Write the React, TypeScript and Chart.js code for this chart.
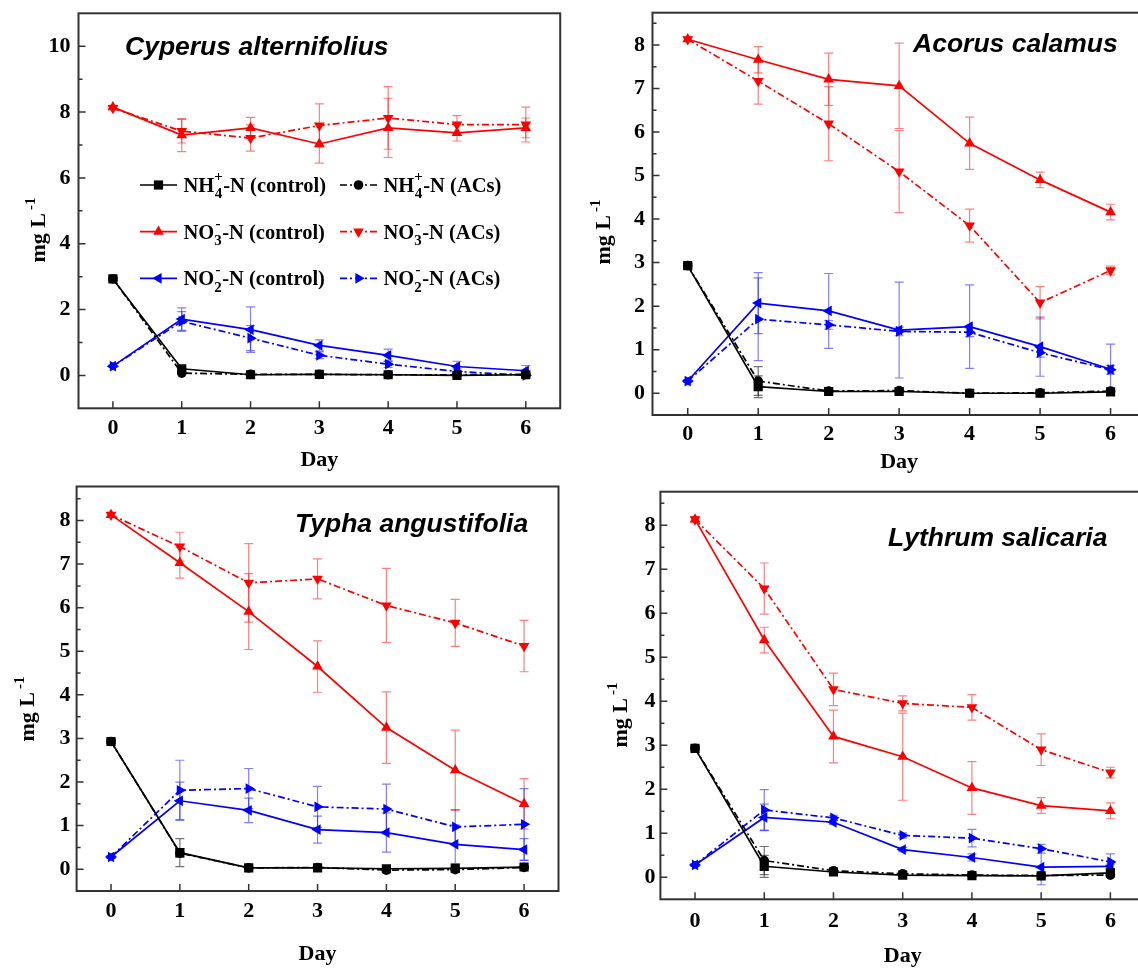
import React, { useEffect, useRef } from 'react';
import { Chart, registerables } from 'chart.js';

Chart.register(...registerables);

// ---------- data ----------
const DAYS = [0, 1, 2, 3, 4, 5, 6];
const X_TICKS = [0, 1, 2, 3, 4, 5, 6];
const SERIES_LABELS = [
  'NH4+-N (control)', 'NH4+-N (ACs)',
  'NO3--N (control)', 'NO3--N (ACs)',
  'NO2--N (control)', 'NO2--N (ACs)',
];

// Cyperus alternifolius
const cypNH4Control = [2.93, 0.20, 0.02, 0.03, 0.02, 0.00, 0.02];
const cypNH4ControlSD = [0.05, 0.05, 0.02, 0.02, 0.02, 0.02, 0.02];
const cypNH4ACs = [2.93, 0.07, 0.03, 0.03, 0.02, 0.02, 0.03];
const cypNH4ACsSD = [0.05, 0.04, 0.02, 0.02, 0.02, 0.02, 0.02];
const cypNO3Control = [8.15, 7.30, 7.52, 7.03, 7.52, 7.37, 7.52];
const cypNO3ControlSD = [0.05, 0.50, 0.32, 0.58, 0.90, 0.25, 0.30];
const cypNO3ACs = [8.12, 7.42, 7.21, 7.59, 7.82, 7.62, 7.62];
const cypNO3ACsSD = [0.05, 0.36, 0.40, 0.66, 0.95, 0.27, 0.53];
const cypNO2Control = [0.28, 1.71, 1.39, 0.91, 0.61, 0.27, 0.14];
const cypNO2ControlSD = [0.03, 0.34, 0.69, 0.17, 0.19, 0.16, 0.16];
const cypNO2ACs = [0.28, 1.64, 1.13, 0.61, 0.34, 0.12, 0.00];
const cypNO2ACsSD = [0.03, 0.30, 0.38, 0.10, 0.10, 0.08, 0.05];
const cypYTicks = [0, 1, 2, 3, 4, 5, 6, 7, 8, 9, 10];
const cypYLabels = [0, 2, 4, 6, 8, 10];

// Acorus calamus
const acoNH4Control = [2.93, 0.15, 0.04, 0.04, 0.00, 0.00, 0.03];
const acoNH4ControlSD = [0.05, 0.25, 0.02, 0.02, 0.02, 0.02, 0.02];
const acoNH4ACs = [2.93, 0.28, 0.05, 0.06, 0.00, 0.01, 0.05];
const acoNH4ACsSD = [0.05, 0.33, 0.02, 0.02, 0.02, 0.02, 0.02];
const acoNO3Control = [8.13, 7.66, 7.21, 7.06, 5.74, 4.90, 4.16];
const acoNO3ControlSD = [0.05, 0.30, 0.60, 0.98, 0.60, 0.18, 0.18];
const acoNO3ACs = [8.13, 7.17, 6.19, 5.09, 3.85, 2.08, 2.82];
const acoNO3ACsSD = [0.05, 0.53, 0.85, 0.94, 0.38, 0.37, 0.10];
const acoNO2Control = [0.28, 2.07, 1.89, 1.45, 1.53, 1.07, 0.55];
const acoNO2ControlSD = [0.03, 0.70, 0.86, 1.10, 0.96, 0.68, 0.58];
const acoNO2ACs = [0.28, 1.70, 1.57, 1.42, 1.40, 0.93, 0.54];
const acoNO2ACsSD = [0.03, 0.95, 0.10, 0.10, 0.10, 0.10, 0.10];
const acoYTicks = [0, 0.5, 1, 1.5, 2, 2.5, 3, 3.5, 4, 4.5, 5, 5.5, 6, 6.5, 7, 7.5, 8, 8.5];
const acoYLabels = [0, 1, 2, 3, 4, 5, 6, 7, 8];

// Typha angustifolia
const typNH4Control = [2.93, 0.38, 0.03, 0.03, 0.01, 0.02, 0.05];
const typNH4ControlSD = [0.05, 0.32, 0.02, 0.02, 0.02, 0.02, 0.02];
const typNH4ACs = [2.93, 0.37, 0.03, 0.04, -0.02, -0.01, 0.04];
const typNH4ACsSD = [0.05, 0.10, 0.02, 0.02, 0.02, 0.02, 0.02];
const typNO3Control = [8.13, 7.03, 5.91, 4.65, 3.25, 2.27, 1.50];
const typNO3ControlSD = [0.05, 0.35, 0.87, 0.59, 0.82, 0.92, 0.58];
const typNO3ACs = [8.13, 7.40, 6.57, 6.66, 6.05, 5.65, 5.12];
const typNO3ACsSD = [0.05, 0.33, 0.90, 0.46, 0.85, 0.54, 0.59];
const typNO2Control = [0.28, 1.57, 1.35, 0.91, 0.84, 0.57, 0.45];
const typNO2ControlSD = [0.03, 0.43, 0.28, 0.31, 0.45, 0.44, 0.25];
const typNO2ACs = [0.28, 1.81, 1.85, 1.43, 1.38, 0.97, 1.03];
const typNO2ACsSD = [0.03, 0.69, 0.46, 0.47, 0.57, 0.40, 0.82];
const typYTicks = [0, 0.5, 1, 1.5, 2, 2.5, 3, 3.5, 4, 4.5, 5, 5.5, 6, 6.5, 7, 7.5, 8, 8.5];
const typYLabels = [0, 1, 2, 3, 4, 5, 6, 7, 8];

// Lythrum salicaria
const lytNH4Control = [2.93, 0.25, 0.12, 0.05, 0.04, 0.03, 0.10];
const lytNH4ControlSD = [0.05, 0.25, 0.02, 0.02, 0.02, 0.02, 0.02];
const lytNH4ACs = [2.93, 0.38, 0.15, 0.08, 0.05, 0.04, 0.05];
const lytNH4ACsSD = [0.05, 0.32, 0.02, 0.02, 0.02, 0.02, 0.02];
const lytNO3Control = [8.13, 5.39, 3.20, 2.74, 2.03, 1.63, 1.51];
const lytNO3ControlSD = [0.05, 0.29, 0.60, 0.99, 0.60, 0.18, 0.18];
const lytNO3ACs = [8.13, 6.56, 4.27, 3.95, 3.86, 2.90, 2.38];
const lytNO3ACsSD = [0.05, 0.58, 0.37, 0.17, 0.29, 0.36, 0.12];
const lytNO2Control = [0.28, 1.36, 1.25, 0.63, 0.45, 0.23, 0.25];
const lytNO2ControlSD = [0.03, 0.30, 0.05, 0.05, 0.08, 0.40, 0.05];
const lytNO2ACs = [0.28, 1.53, 1.35, 0.95, 0.89, 0.65, 0.35];
const lytNO2ACsSD = [0.03, 0.46, 0.06, 0.06, 0.20, 0.10, 0.18];
const lytYTicks = [0, 0.5, 1, 1.5, 2, 2.5, 3, 3.5, 4, 4.5, 5, 5.5, 6, 6.5, 7, 7.5, 8, 8.5];
const lytYLabels = [0, 1, 2, 3, 4, 5, 6, 7, 8];

// ---------- styles ----------
const SERIF = "'Liberation Serif', 'Times New Roman', serif";
const SANS = "'Liberation Sans', Arial, sans-serif";
const DASHDOT = [7, 3, 2, 3];
const FRAME = '#333333';

const STYLES = [
  { color: '#000000', err: 'rgba(0,0,0,0.55)', dash: [] as number[], point: 'rect', rot: 0, radius: 6.5 },
  { color: '#000000', err: 'rgba(0,0,0,0.55)', dash: DASHDOT, point: 'circle', rot: 0, radius: 4.8 },
  { color: '#ff0000', err: 'rgba(255,0,0,0.5)', dash: [] as number[], point: 'triangle', rot: 0, radius: 6.2 },
  { color: '#ff0000', err: 'rgba(255,0,0,0.5)', dash: DASHDOT, point: 'triangle', rot: 180, radius: 6.2 },
  { color: '#0000ff', err: 'rgba(0,0,255,0.5)', dash: [] as number[], point: 'triangle', rot: -90, radius: 6.2 },
  { color: '#0000ff', err: 'rgba(0,0,255,0.5)', dash: DASHDOT, point: 'triangle', rot: 90, radius: 6.2 },
];

const LEGEND_TEXT = [
  { base: 'NH', sup: '+', sub: '4', rest: '-N (control)' },
  { base: 'NH', sup: '+', sub: '4', rest: '-N (ACs)' },
  { base: 'NO', sup: '-', sub: '3', rest: '-N (control)' },
  { base: 'NO', sup: '-', sub: '3', rest: '-N (ACs)' },
  { base: 'NO', sup: '-', sub: '2', rest: '-N (control)' },
  { base: 'NO', sup: '-', sub: '2', rest: '-N (ACs)' },
];

const PANELS = [
  {
    title: 'Cyperus alternifolius',
    series: [cypNH4Control, cypNH4ACs, cypNO3Control, cypNO3ACs, cypNO2Control, cypNO2ACs],
    errors: [cypNH4ControlSD, cypNH4ACsSD, cypNO3ControlSD, cypNO3ACsSD, cypNO2ControlSD, cypNO2ACsSD],
    yMin: -1, yMax: 11, yTicks: cypYTicks, yLabels: cypYLabels,
    left: 0, top: 0, w: 575, h: 480,
    yAxisW: 78.5, padTop: 13.3, padRight: 14.8, xAxisH: 71.7,
    yTickPad: 8, xTickPad: 7, dayPad: 6.5,
    titleX: 125, titleY: 55, yTitleX: 45, yTitleY: 230, legend: true,
  },
  {
    title: 'Acorus calamus',
    series: [acoNH4Control, acoNH4ACs, acoNO3Control, acoNO3ACs, acoNO2Control, acoNO2ACs],
    errors: [acoNH4ControlSD, acoNH4ACsSD, acoNO3ControlSD, acoNO3ACsSD, acoNO2ControlSD, acoNO2ACsSD],
    yMin: -0.5, yMax: 8.74, yTicks: acoYTicks, yLabels: acoYLabels,
    left: 575, top: 0, w: 590, h: 480,
    yAxisW: 77.5, padTop: 12.7, padRight: 19.2, xAxisH: 65,
    yTickPad: 7.5, xTickPad: 6.5, dayPad: 4.2,
    titleX: 913, titleY: 52, yTitleX: 610, yTitleY: 232, legend: false,
  },
  {
    title: 'Typha angustifolia',
    series: [typNH4Control, typNH4ACs, typNO3Control, typNO3ACs, typNO2Control, typNO2ACs],
    errors: [typNH4ControlSD, typNH4ACsSD, typNO3ControlSD, typNO3ACsSD, typNO2ControlSD, typNO2ACsSD],
    yMin: -0.5, yMax: 8.78, yTicks: typYTicks, yLabels: typYLabels,
    left: 0, top: 480, w: 575, h: 491,
    yAxisW: 76.6, padTop: 6, padRight: 16.5, xAxisH: 80,
    yTickPad: 6, xTickPad: 7, dayPad: 3.2,
    titleX: 295, titleY: 531.7, yTitleX: 34, yTitleY: 709, legend: false,
  },
  {
    title: 'Lythrum salicaria',
    series: [lytNH4Control, lytNH4ACs, lytNO3Control, lytNO3ACs, lytNO2Control, lytNO2ACs],
    errors: [lytNH4ControlSD, lytNH4ACsSD, lytNO3ControlSD, lytNO3ACsSD, lytNO2ControlSD, lytNO2ACsSD],
    yMin: -0.5, yMax: 8.76, yTicks: lytYTicks, yLabels: lytYLabels,
    left: 575, top: 480, w: 590, h: 491,
    yAxisW: 85.4, padTop: 11.7, padRight: 20, xAxisH: 71.7,
    yTickPad: 5, xTickPad: 8.5, dayPad: 1.5,
    titleX: 888, titleY: 546, yTitleX: 627, yTitleY: 715, legend: false,
  },
];

type Panel = typeof PANELS[number];

function drawMarker(ctx: CanvasRenderingContext2D, i: number, x: number, y: number) {
  const s = STYLES[i];
  ctx.fillStyle = s.color;
  ctx.beginPath();
  if (s.point === 'rect') {
    const h = s.radius * Math.SQRT1_2;
    ctx.rect(x - h, y - h, 2 * h, 2 * h);
  } else if (s.point === 'circle') {
    ctx.arc(x, y, s.radius, 0, Math.PI * 2);
  } else {
    let rad = (s.rot * Math.PI) / 180;
    for (let k = 0; k < 3; k++) {
      const px = x + Math.sin(rad) * s.radius;
      const py = y - Math.cos(rad) * s.radius;
      if (k === 0) ctx.moveTo(px, py); else ctx.lineTo(px, py);
      rad += (2 * Math.PI) / 3;
    }
    ctx.closePath();
  }
  ctx.fill();
}

function drawChem(ctx: CanvasRenderingContext2D, x: number, baseY: number, t: { base: string; sup: string; sub: string; rest: string }) {
  ctx.textAlign = 'left';
  ctx.textBaseline = 'alphabetic';
  ctx.fillStyle = '#000';
  ctx.font = `bold 20.5px ${SERIF}`;
  ctx.fillText(t.base, x, baseY);
  let cx = x + ctx.measureText(t.base).width;
  ctx.font = `bold 15px ${SERIF}`;
  const wSup = ctx.measureText(t.sup).width;
  const wSub = ctx.measureText(t.sub).width;
  const w = Math.max(wSup, wSub);
  ctx.fillText(t.sup, cx + (w - wSup) / 2, baseY - 11);
  ctx.fillText(t.sub, cx + (w - wSub) / 2, baseY + 6.4);
  cx += w + 0.5;
  ctx.font = `bold 20.5px ${SERIF}`;
  ctx.fillText(t.rest, cx, baseY);
}

function PanelChart({ p }: { p: Panel }) {
  const ref = useRef<HTMLCanvasElement>(null);

  useEffect(() => {
    const canvas = ref.current;
    if (!canvas) return;

    const datasets = p.series.map((vals, i) => ({
      label: SERIES_LABELS[i],
      data: DAYS.map((d, k) => ({ x: d, y: vals[k] })),
      errors: p.errors[i],
      borderColor: STYLES[i].color,
      backgroundColor: STYLES[i].color,
      borderWidth: 1.7,
      borderDash: STYLES[i].dash,
      pointStyle: STYLES[i].point,
      pointRotation: STYLES[i].rot,
      pointRadius: STYLES[i].radius,
      pointBorderWidth: 0,
      pointBackgroundColor: STYLES[i].color,
      pointBorderColor: STYLES[i].color,
      tension: 0,
      fill: false,
    }));

    const panelPlugin = {
      id: 'panelDecor',
      beforeDatasetsDraw(chart: any) {
        const { ctx, scales } = chart;
        const xs = scales.x;
        const ys = scales.y;
        ctx.save();
        ctx.lineWidth = 1.2;
        chart.data.datasets.forEach((ds: any, i: number) => {
          ctx.strokeStyle = STYLES[i].err;
          ds.data.forEach((pt: any, k: number) => {
            const e = ds.errors[k];
            if (!e) return;
            const px = xs.getPixelForValue(pt.x);
            const t = ys.getPixelForValue(pt.y + e);
            const b = ys.getPixelForValue(pt.y - e);
            ctx.beginPath();
            ctx.moveTo(px, t); ctx.lineTo(px, b);
            ctx.moveTo(px - 4.5, t); ctx.lineTo(px + 4.5, t);
            ctx.moveTo(px - 4.5, b); ctx.lineTo(px + 4.5, b);
            ctx.stroke();
          });
        });
        ctx.restore();
      },
      afterDraw(chart: any) {
        const { ctx, chartArea: a, scales } = chart;
        const xs = scales.x;
        const ys = scales.y;
        ctx.save();
        // frame
        ctx.strokeStyle = FRAME;
        ctx.lineWidth = 2;
        ctx.strokeRect(a.left, a.top, a.right - a.left, a.bottom - a.top);
        // ticks
        ctx.lineWidth = 1.5;
        ctx.beginPath();
        ys.ticks.forEach((t: any) => {
          const py = ys.getPixelForValue(t.value);
          const len = p.yLabels.includes(t.value) ? 7 : 4;
          ctx.moveTo(a.left, py); ctx.lineTo(a.left + len, py);
        });
        xs.ticks.forEach((t: any) => {
          const px = xs.getPixelForValue(t.value);
          ctx.moveTo(px, a.bottom); ctx.lineTo(px, a.bottom - 7);
        });
        ctx.stroke();

        // species title
        ctx.fillStyle = '#000';
        ctx.textAlign = 'left';
        ctx.textBaseline = 'alphabetic';
        ctx.font = `italic bold 26.5px ${SANS}`;
        ctx.fillText(p.title, p.titleX - p.left, p.titleY - p.top);

        // y-axis title with superscript
        ctx.save();
        ctx.translate(p.yTitleX - p.left, p.yTitleY - p.top);
        ctx.rotate(-Math.PI / 2);
        ctx.font = `bold 22px ${SERIF}`;
        const main = 'mg L';
        const wMain = ctx.measureText(main).width;
        ctx.font = `bold 15px ${SERIF}`;
        const sup = '-1';
        const wSup = ctx.measureText(sup).width;
        const total = wMain + 3 + wSup;
        ctx.font = `bold 22px ${SERIF}`;
        ctx.fillText(main, -total / 2, 0);
        ctx.font = `bold 15px ${SERIF}`;
        ctx.fillText(sup, -total / 2 + wMain + 3, -10);
        ctx.restore();

        // legend
        if (p.legend) {
          const rows = [185, 231.7, 278.3];
          const cols = [{ l0: 140, l1: 177, tx: 183.5 }, { l0: 340, l1: 377, tx: 383.5 }];
          for (let i = 0; i < 6; i++) {
            const r = Math.floor(i / 2);
            const c = cols[i % 2];
            const y = rows[r];
            ctx.save();
            ctx.strokeStyle = STYLES[i].color;
            ctx.lineWidth = 1.7;
            ctx.setLineDash(STYLES[i].dash);
            ctx.beginPath();
            ctx.moveTo(c.l0, y); ctx.lineTo(c.l1, y);
            ctx.stroke();
            ctx.restore();
            drawMarker(ctx, i, (c.l0 + c.l1) / 2, y);
            drawChem(ctx, c.tx, y + 6.8, LEGEND_TEXT[i]);
          }
        }
        ctx.restore();
      },
    };

    const tickFont = { family: SERIF, size: 22, weight: 'bold' as const };

    const chart = new Chart(canvas, {
      type: 'line',
      data: { datasets: datasets as any },
      options: {
        animation: false,
        responsive: false,
        events: [],
        layout: { padding: { top: p.padTop, right: p.padRight, left: 0, bottom: 0 } },
        plugins: {
          legend: { display: false },
          tooltip: { enabled: false },
          title: { display: false },
        },
        scales: {
          x: {
            type: 'linear',
            min: -0.5,
            max: 6.5,
            afterBuildTicks: (s: any) => { s.ticks = X_TICKS.map((v) => ({ value: v })); },
            afterFit: (s: any) => { s.height = p.xAxisH; s.paddingLeft = 0; s.paddingRight = 0; },
            grid: { display: false, drawTicks: false },
            border: { display: false },
            ticks: {
              font: tickFont, color: '#000', padding: p.xTickPad, autoSkip: false, maxRotation: 0,
              callback: (v: any) => String(v),
            },
            title: {
              display: true, text: 'Day', color: '#000',
              font: { family: SERIF, size: 22, weight: 'bold' },
              padding: { top: 0, bottom: p.dayPad },
            },
          },
          y: {
            type: 'linear',
            min: p.yMin,
            max: p.yMax,
            afterBuildTicks: (s: any) => { s.ticks = p.yTicks.map((v) => ({ value: v })); },
            afterFit: (s: any) => { s.width = p.yAxisW; s.paddingTop = 0; s.paddingBottom = 0; },
            grid: { display: false, drawTicks: false },
            border: { display: false },
            ticks: {
              font: tickFont, color: '#000', padding: p.yTickPad, autoSkip: false,
              callback: (v: any) => (p.yLabels.includes(v) ? String(v) : ''),
            },
          },
        },
      } as any,
      plugins: [panelPlugin],
    });

    return () => chart.destroy();
  }, [p]);

  return (
    <canvas
      ref={ref}
      width={p.w}
      height={p.h}
      style={{ position: 'absolute', left: p.left, top: p.top, width: p.w, height: p.h }}
    />
  );
}

export default function App() {
  return (
    <div
      style={{
        position: 'absolute', left: 0, top: 0, width: 1138, height: 971,
        overflow: 'hidden', background: '#ffffff',
      }}
    >
      {PANELS.map((p, i) => (
        <PanelChart key={i} p={p} />
      ))}
    </div>
  );
}
